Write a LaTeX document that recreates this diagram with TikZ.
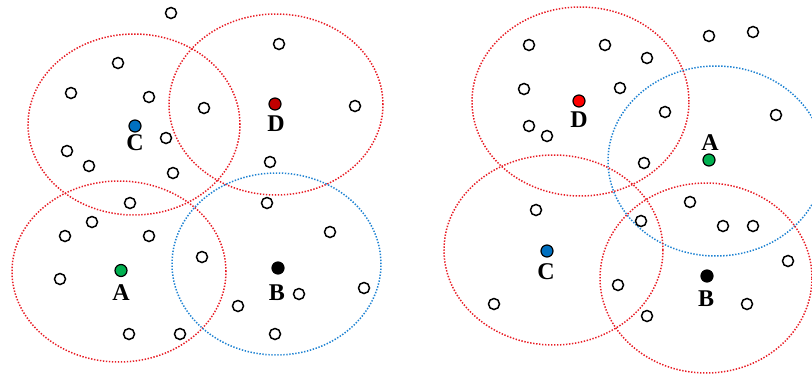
\documentclass[tikz,border=0pt]{standalone}
\usepackage{fontspec}
\setmainfont{Liberation Serif}
\definecolor{ringred}{RGB}{232,28,36}
\definecolor{ringblue}{RGB}{30,130,210}
\definecolor{cblue}{RGB}{0,112,192}
\definecolor{cdred}{RGB}{192,0,0}
\definecolor{cred}{RGB}{255,0,0}
\definecolor{cgreen}{RGB}{0,176,80}
\begin{document}
\begin{tikzpicture}[x=1pt,y=-1pt,
  pt/.style={circle,draw=black,line width=1.5pt,fill=white,minimum size=11pt,inner sep=0pt},
  ctr/.style={circle,draw=black,line width=1.2pt,fill=#1,minimum size=12pt,inner sep=0pt},
  lbl/.style={font=\fontsize{24}{24}\selectfont\bfseries,inner sep=0pt},
  rring/.style={draw=ringred,line width=1.5pt,dash pattern=on 1.4pt off 1.6pt},
  bring/.style={draw=ringblue,line width=1.5pt,dash pattern=on 1.4pt off 1.6pt}]
\useasboundingbox (0,0) rectangle (812,375);
% ---------- left picture ----------
\draw[rring] (134,124.5) ellipse [x radius=106pt, y radius=90.5pt];
\draw[rring] (276,104.5) ellipse [x radius=107pt, y radius=90.5pt];
\draw[rring] (119,271.5) ellipse [x radius=107pt, y radius=90.5pt];
\draw[bring] (276.5,264) ellipse [x radius=104.5pt, y radius=91pt];
\foreach \n/\x/\y in {l1/171/13,l2/279/44,l3/118/63,l4/71/93,l5/149/97,l6/204/108,l7/355/106,
  l8/166/138,l9/67/151,l10/89/166,l11/173/173,l12/270/162,l13/130/203,l14/267/203,l15/92/222,
  l16/65/236,l17/149/236,l18/330/232,l19/202/257,l20/60/279,l21/299/294,l22/364/288,l23/238/306,
  l24/129/334,l25/180/334,l26/275/334}
  \node[pt] (\n) at (\x,\y) {};
\node[ctr=cdred] (lD) at (275,104) {};
\node[ctr=cblue] (lC) at (135,126) {};
\node[ctr=cgreen] (lA) at (121,270.5) {};
\node[ctr=black] (lB) at (278,268) {};
\node[lbl] (lDl) at (276,123.5) {D};
\node[lbl] (lCl) at (135,143) {C};
\node[lbl] (lAl) at (121,292.5) {A};
\node[lbl] (lBl) at (277,292.5) {B};
% ---------- right picture ----------
\draw[rring] (580.5,101.5) ellipse [x radius=108.5pt, y radius=94.5pt];
\draw[bring] (716,161) ellipse [x radius=108pt, y radius=95pt];
\draw[rring] (553.5,250) ellipse [x radius=109.5pt, y radius=95pt];
\draw[rring] (706,278) ellipse [x radius=106pt, y radius=95pt];
\foreach \n/\x/\y in {r1/529/45,r2/605/45,r3/647/58,r4/709/36,r5/753/32,r6/524/89,r7/620/88,
  r8/665/112,r9/776/115,r10/529/126,r11/547/136,r12/644/163,r13/536/210,r14/690/202,
  r15/641/221,r16/723/226,r17/753/226,r18/788/261,r19/618/285,r20/494/304,r21/747/304,r22/647/316}
  \node[pt] (\n) at (\x,\y) {};
\node[ctr=cred] (rD) at (579,101) {};
\node[ctr=cgreen] (rA) at (709,160) {};
\node[ctr=cblue] (rC) at (547,251) {};
\node[ctr=black] (rB) at (707,276) {};
\node[lbl] (rDl) at (579,120) {D};
\node[lbl] (rAl) at (710,143) {A};
\node[lbl] (rCl) at (546,272) {C};
\node[lbl] (rBl) at (706,299) {B};
\end{tikzpicture}
\end{document}
